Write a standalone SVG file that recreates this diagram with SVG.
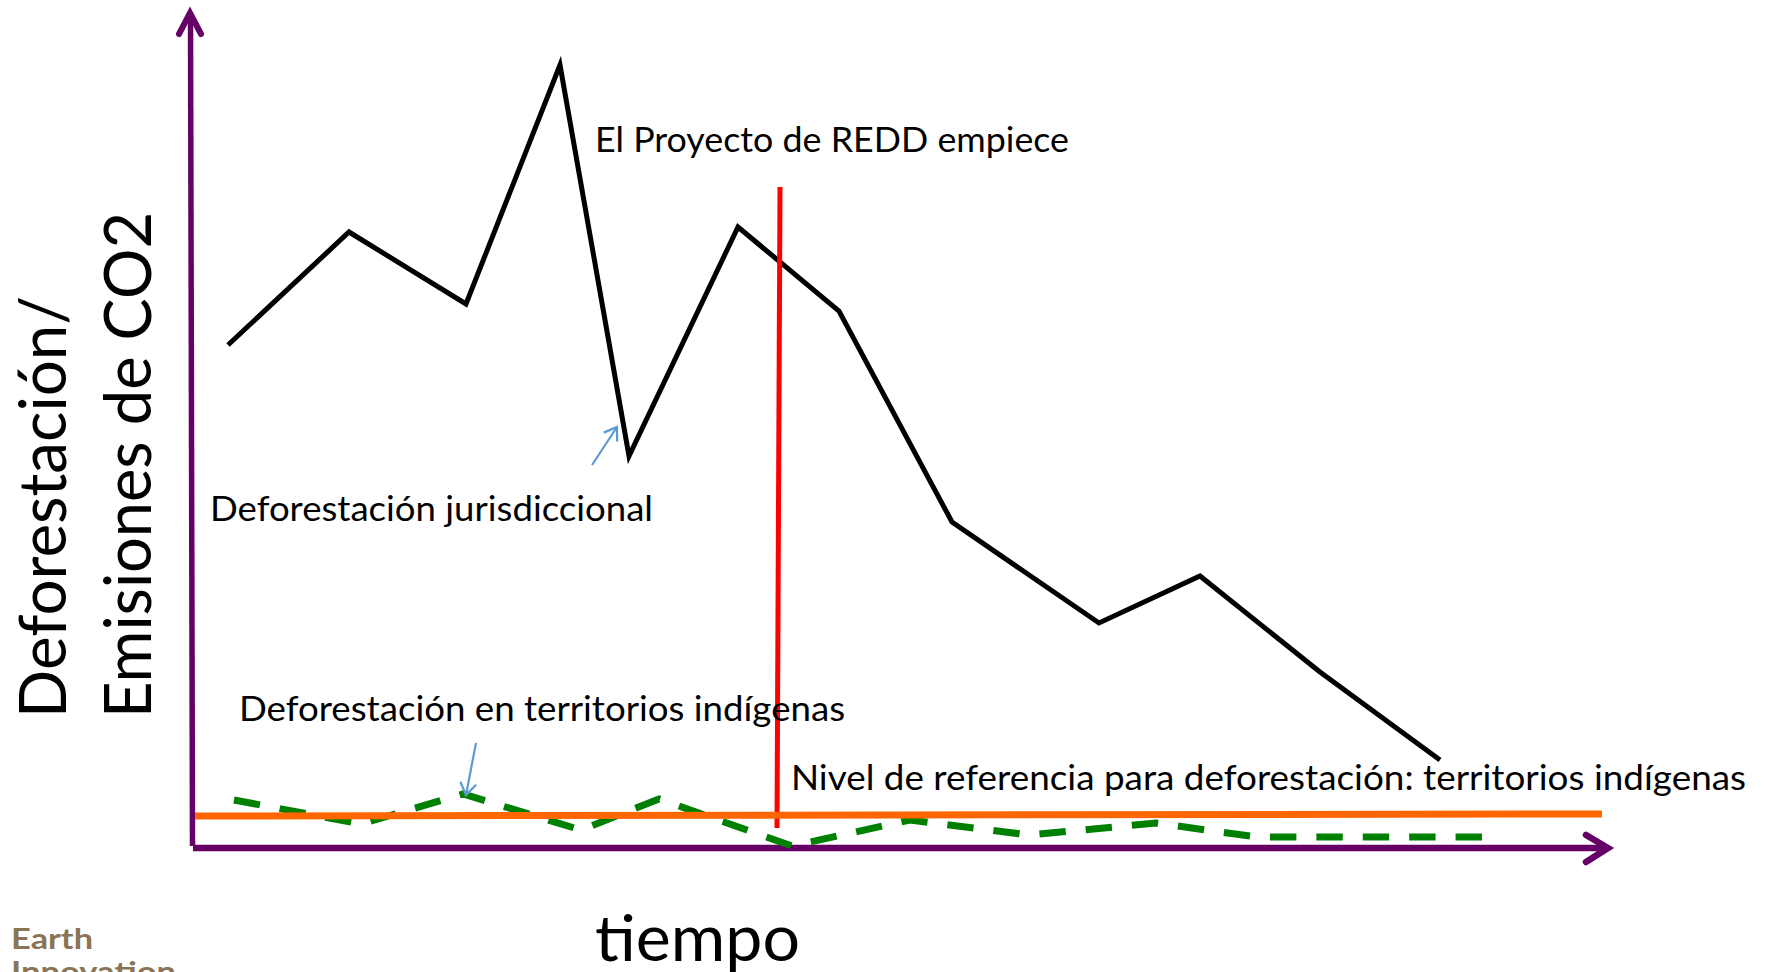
<svg xmlns="http://www.w3.org/2000/svg" width="1771" height="972" viewBox="0 0 1771 972">
<style>
text{font-family:"Lato","Open Sans","Liberation Sans",sans-serif;fill:#000}
.l{font-size:34px}
.y{font-size:66px}
.b{font-weight:700;font-size:29px;fill:#8B7355}
.p{fill:none;stroke-linejoin:miter}
</style>
<defs>
<marker id="h" markerUnits="userSpaceOnUse" markerWidth="12" markerHeight="12" refX="0" refY="0" orient="auto" overflow="visible"><path d="M-12,-8L0,0L-12,8" fill="none" stroke="#5B9BD5" stroke-width="2.2"/></marker>
</defs>
<rect width="1771" height="972" fill="#fff"/>
<g id="connectors">
<path id="axis-y" class="p" stroke="#660066" stroke-width="5.5" d="M192.5,846L190.5,16"/>
<path id="axis-y-head" class="p" stroke="#660066" stroke-width="6" stroke-linecap="round" d="M179,34L190,13L201,34"/>
<path id="axis-x" class="p" stroke="#660066" stroke-width="6.5" d="M193,848H1606"/>
<path id="axis-x-head" class="p" stroke="#660066" stroke-width="6.5" stroke-linecap="round" d="M1586,835L1608,848L1586,862"/>
<path id="jurisdictional" class="p" stroke="#000" stroke-width="5" d="M228,345L349,232L466,304L560,65L629,456L738,227L839,311L952,522L1099,623L1200,576L1320,672L1440,760"/>
<path id="start-line" class="p" stroke="#FF0000" stroke-width="5" d="M780,187L777,828"/>
<path id="indigenous" class="p" stroke="#008000" stroke-width="7" stroke-dasharray="26.4 20" d="M234,800L361,824L463,794L581,830L659,799L792,846L910,820L1029,835L1156,823L1257,837H1499"/>
<path id="reference" class="p" stroke="#FF6600" stroke-width="7" d="M195,816L1602,814"/>
<path id="pointer-1" class="p" stroke="#5B9BD5" stroke-width="2.2" marker-end="url(#h)" d="M592,465L617,427"/>
<path id="pointer-2" class="p" stroke="#5B9BD5" stroke-width="2.2" marker-end="url(#h)" d="M476,743L466,795"/>
</g>
<g id="label-proyecto"><text class="l" x="595" y="152" textLength="474" lengthAdjust="spacingAndGlyphs">El Proyecto de REDD empiece</text></g>
<g id="label-jurisdiccional"><text class="l" x="210" y="521" textLength="443" lengthAdjust="spacingAndGlyphs">Deforestación jurisdiccional</text></g>
<g id="label-territorios"><text class="l" x="239" y="721" textLength="606" lengthAdjust="spacingAndGlyphs">Deforestación en territorios indígenas</text></g>
<g id="label-nivel"><text class="l" x="791" y="790" textLength="955" lengthAdjust="spacingAndGlyphs">Nivel de referencia para deforestación: territorios indígenas</text></g>
<g id="label-tiempo"><text x="595" y="961" font-size="64" textLength="205" lengthAdjust="spacingAndGlyphs">tiempo</text></g>
<g id="label-y1"><text class="y" transform="translate(66,718) rotate(-90)" textLength="422" lengthAdjust="spacingAndGlyphs">Deforestación/</text></g>
<g id="label-y2"><text class="y" transform="translate(151,718) rotate(-90)" textLength="506" lengthAdjust="spacingAndGlyphs">Emisiones de CO2</text></g>
<g id="logo"><text class="b" x="11" y="949" textLength="82" lengthAdjust="spacingAndGlyphs">Earth</text><text class="b" x="11" y="982" textLength="165" lengthAdjust="spacingAndGlyphs">Innovation</text></g>
</svg>
